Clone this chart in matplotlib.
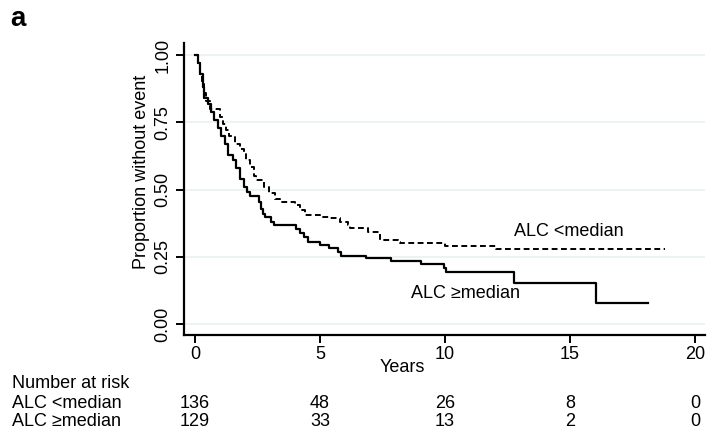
import matplotlib
matplotlib.use("Agg")
import matplotlib.pyplot as plt
import matplotlib.transforms as mtransforms

plt.rcParams['font.family'] = ['Liberation Sans', 'DejaVu Sans']

# Kaplan-Meier step data (time in years, proportion without event)
t_low = [0, 0.1, 0.2, 0.27, 0.35, 0.45, 0.6, 1.0, 1.1, 1.25, 1.35, 1.6, 1.8, 1.95,
         2.05, 2.2, 2.35, 2.45, 2.75, 2.95, 3.2, 3.4, 4.0, 4.2, 4.4, 5.0, 5.4, 5.8,
         6.1, 6.2, 6.9, 7.4, 8.1, 8.2, 10.0, 12.05, 18.8]
s_low = [1.0, 0.97, 0.93, 0.90, 0.86, 0.83, 0.80, 0.77, 0.745, 0.72, 0.70, 0.67, 0.65, 0.635,
         0.61, 0.585, 0.55, 0.535, 0.51, 0.486, 0.465, 0.455, 0.443, 0.425, 0.406, 0.40, 0.394, 0.381,
         0.369, 0.356, 0.344, 0.313, 0.307, 0.303, 0.291, 0.279, 0.279]

t_high = [0, 0.1, 0.2, 0.3, 0.37, 0.5, 0.65, 0.75, 0.9, 1.05, 1.2, 1.3, 1.5, 1.65,
          1.8, 1.95, 2.07, 2.2, 2.55, 2.62, 2.7, 2.8, 3.05, 3.15, 4.05, 4.2, 4.35, 4.5,
          5.0, 5.35, 5.7, 5.85, 6.85, 7.85, 9.05, 9.95, 10.05, 12.75, 16.05, 18.1]
s_high = [1.0, 0.97, 0.93, 0.88, 0.84, 0.82, 0.79, 0.76, 0.73, 0.70, 0.67, 0.63, 0.61, 0.58,
          0.54, 0.51, 0.49, 0.475, 0.455, 0.43, 0.41, 0.40, 0.38, 0.37, 0.355, 0.34, 0.325, 0.307,
          0.295, 0.282, 0.27, 0.255, 0.245, 0.235, 0.224, 0.208, 0.195, 0.155, 0.08, 0.08]

x_ticks = [0, 5, 10, 15, 20]
y_ticks = [0.0, 0.25, 0.5, 0.75, 1.0]
y_ticklabels = ["0.00", "0.25", "0.50", "0.75", "1.00"]
groups = ["ALC <median", "ALC \u2265median"]
risk_low = [136, 48, 26, 8, 0]
risk_high = [129, 33, 13, 2, 0]

W, H = 708, 430
fig = plt.figure(figsize=(W / 100, H / 100), dpi=100)
ax = fig.add_axes([184 / W, 1 - 335 / H, (705 - 184) / W, (335 - 43) / H])

for y in y_ticks:
    ax.axhline(y, color='#eaf2f3', lw=1.3, zorder=0)

ax.step(t_low, s_low, where='post', color='black', lw=1.4, linestyle=(0, (3.0, 1.8)))
ax.step(t_high, s_high, where='post', color='black', lw=1.6)

ax.set_xlim(-0.44, 20.4)
ax.set_ylim(-0.04, 1.045)
ax.set_xticks(x_ticks)
ax.set_xticklabels([str(v) for v in x_ticks])
ax.set_yticks(y_ticks)
ax.set_yticklabels(y_ticklabels, rotation=90, va='center')
for s in ['top', 'right']:
    ax.spines[s].set_visible(False)
for s in ['left', 'bottom']:
    ax.spines[s].set_linewidth(1.6)
fs = 13
ax.tick_params(axis='both', length=6, width=1.4, labelsize=fs, direction='out')
ax.tick_params(axis='y', pad=3)
ax.tick_params(axis='x', pad=2)

ax.text(12.75, 0.345, groups[0], fontsize=fs, va='center', ha='left')
ax.text(8.65, 0.113, groups[1], fontsize=fs, va='center', ha='left')

fig.text(141 / W, 1 - 172 / H, "Proportion without event", rotation=90,
         fontsize=fs, ha='center', va='center')
fig.text(402 / W, 1 - 368 / H, "Years", fontsize=fs, ha='center', va='center')
fig.text(10 / W, 1 - 19 / H, "a", fontsize=20, fontweight='bold', ha='left', va='center')

fig.text(12 / W, 1 - 384 / H, "Number at risk", fontsize=fs, ha='left', va='center')
fig.text(12 / W, 1 - 403 / H, groups[0], fontsize=fs, ha='left', va='center')
fig.text(12 / W, 1 - 422 / H, groups[1], fontsize=fs, ha='left', va='center')

trans = mtransforms.blended_transform_factory(ax.transData, fig.transFigure)
for x, n1, n2 in zip(x_ticks, risk_low, risk_high):
    ax.text(x, 1 - 403 / H, str(n1), transform=trans, fontsize=fs, ha='center', va='center')
    ax.text(x, 1 - 422 / H, str(n2), transform=trans, fontsize=fs, ha='center', va='center')

fig.savefig("out.png", dpi=100)
